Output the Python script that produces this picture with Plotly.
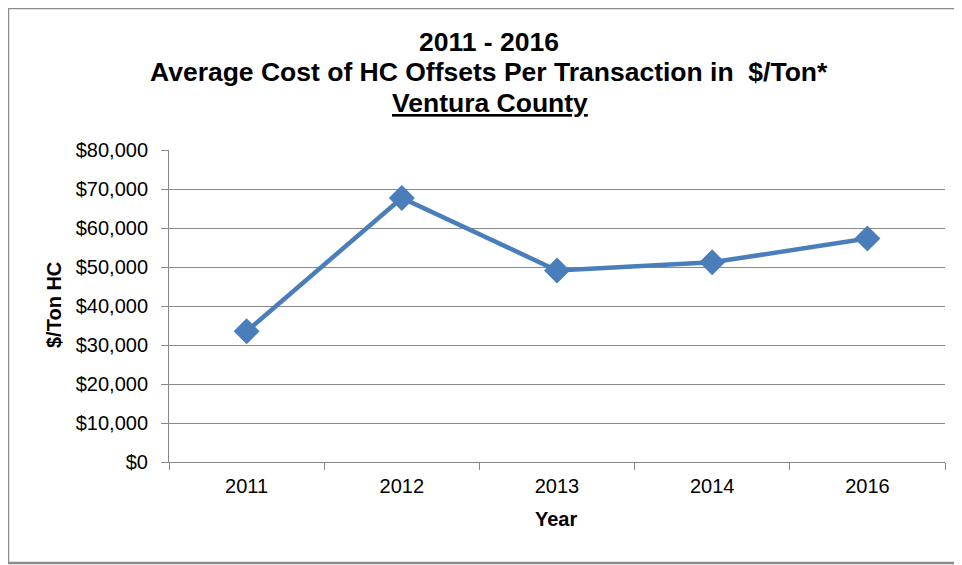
import plotly.graph_objects as go

years = ["2011", "2012", "2013", "2014", "2016"]
cost = [33500, 67700, 49100, 51200, 57300]

title_lines = ["2011 - 2016",
               "Average Cost of HC Offsets Per Transaction in  $/Ton*",
               "Ventura County"]
x_title = "Year"
y_title = "$/Ton HC"

# page is drawn with an 8px body margin, so the figure is 8px smaller
W, H = 954, 557
L, R, T, B = 161, 17, 142, 103
pw = W - L - R
ph = H - T - B


def px_x(x):
    return (x - L) / pw


def px_y(y):
    return (H - B - y) / ph


FONT = "Liberation Sans, Arial, sans-serif"
BLUE = "#4A7EBB"

fig = go.Figure()
fig.add_trace(go.Scatter(
    x=years, y=cost, mode="lines+markers",
    line=dict(color=BLUE, width=4.5),
    marker=dict(symbol="diamond", size=20, color=BLUE),
    showlegend=False, hoverinfo="x+y",
))

annotations = [
    dict(text="<b>%s</b>" % title_lines[0], x=px_x(481), y=px_y(34)),
    dict(text="<b>%s</b>" % title_lines[1], x=px_x(481), y=px_y(64)),
    dict(text="<b><u>%s</u></b>" % title_lines[2], x=px_x(482), y=px_y(95)),
]
for a in annotations:
    a.update(xref="paper", yref="paper", xanchor="center", yanchor="middle",
             showarrow=False, font=dict(size=26.5, color="#000000", family=FONT))

annotations.append(dict(
    text="<b>%s</b>" % y_title, x=px_x(46), y=px_y(297), xref="paper", yref="paper",
    xanchor="center", yanchor="middle", textangle=-90, showarrow=False,
    font=dict(size=20, color="#000000", family=FONT)))
annotations.append(dict(
    text="<b>%s</b>" % x_title, x=px_x(548), y=px_y(511), xref="paper", yref="paper",
    xanchor="center", yanchor="middle", showarrow=False,
    font=dict(size=20, color="#000000", family=FONT)))

fig.update_layout(
    width=W, height=H,
    margin=dict(l=L, r=R, t=T, b=B),
    paper_bgcolor="white", plot_bgcolor="white",
    font=dict(family=FONT, color="#000000"),
    annotations=annotations,
    xaxis=dict(
        type="category", showgrid=False, range=[-0.5, len(years) - 0.5],
        showline=True, linecolor="#888888", linewidth=1,
        ticks="outside", tickson="boundaries", ticklen=7, tickcolor="#888888",
        tickfont=dict(size=20, color="#000000"),
        ticklabelstandoff=6,
    ),
    yaxis=dict(
        range=[0, 80000], dtick=10000, tickprefix="$", tickformat=",d",
        showgrid=True, gridcolor="#8A8A8A", gridwidth=1,
        showline=True, linecolor="#888888", linewidth=1,
        ticks="outside", ticklen=7, tickcolor="#888888",
        tickfont=dict(size=20, color="#000000"),
        ticklabelstandoff=9,
        zeroline=False,
    ),
    shapes=[dict(
        type="rect", xref="paper", yref="paper",
        x0=px_x(0), x1=px_x(W + 5), y0=px_y(555), y1=px_y(0),
        line=dict(color="#8C8C8C", width=2.5), fillcolor="rgba(0,0,0,0)", layer="below",
    )],
)

fig.write_html("out.html")
